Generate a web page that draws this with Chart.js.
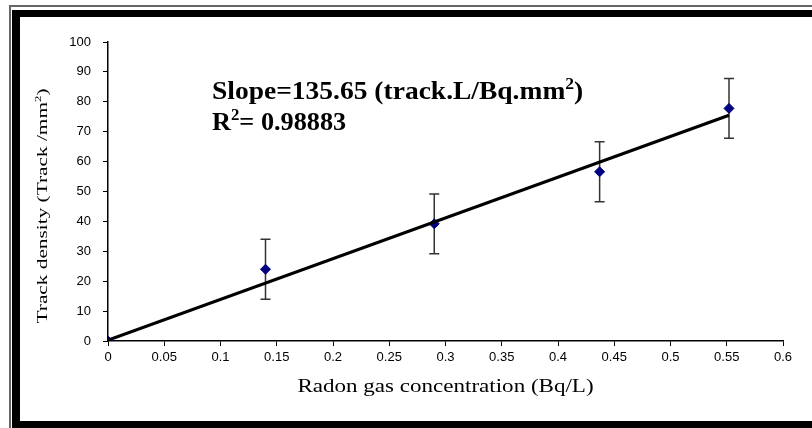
<!DOCTYPE html>
<html>
<head>
<meta charset="utf-8">
<script src="https://cdn.jsdelivr.net/npm/chart.js@4.4.1/dist/chart.umd.min.js"></script>
<style>
  html, body { margin: 0; padding: 0; background: #fff; }
  #wrap { position: relative; width: 812px; height: 428px; overflow: hidden; background: #fff; }
  .bar { position: absolute; }
  canvas { position: absolute; left: 0; top: 0; }
</style>
</head>
<body>
<div id="wrap">
  <!-- double frame: thin grey line outside, thick black inside -->
  <div class="bar" style="left:9px;top:5px;width:2px;height:423px;background:#666"></div>
  <div class="bar" style="left:9px;top:5px;width:803px;height:2px;background:#666"></div>
  <div class="bar" style="left:12px;top:10px;width:8px;height:418px;background:#000"></div>
  <div class="bar" style="left:12px;top:10px;width:800px;height:7px;background:#000"></div>
  <div class="bar" style="left:12px;top:421px;width:800px;height:7px;background:#000"></div>
  <canvas id="chart" width="812" height="428"></canvas>
</div>
<script>
// measured points
const radonConc = [0, 0.14, 0.29, 0.437, 0.552];
const trackDensity = [0, 24, 39.2, 56.6, 77.8];
const densityError = [0, 10, 10, 10, 10];

// linear fit drawn in the figure
const fitConc = [0, 0.552];
const fitDensity = [0.3, 75.5];

const xTickLabels = ["0", "0.05", "0.1", "0.15", "0.2", "0.25", "0.3", "0.35", "0.4", "0.45", "0.5", "0.55", "0.6"];
const yTickLabels = ["0", "10", "20", "30", "40", "50", "60", "70", "80", "90", "100"];

const xTitle = "Radon gas concentration (Bq/L)";
const yTitle = [["Track density (Track /mm", false], ["2", true], [")", false]];
const slopeText = [["Slope=135.65 (track.L/Bq.mm", false], ["2", true], [")", false]];
const r2Text = [["R", false], ["2", true], ["= 0.98883", false]];

// draws a run of text pieces, superscripts smaller and raised; sx stretches along the text
function drawRich(ctx, parts, x, y, size, weight, sx, align) {
  const supSize = Math.round(size * 0.62);
  let total = 0;
  parts.forEach(([t, sup]) => {
    ctx.font = `${weight} ${sup ? supSize : size}px "Liberation Serif", "Times New Roman", serif`;
    total += ctx.measureText(t).width;
  });
  ctx.save();
  ctx.translate(x, y);
  ctx.scale(sx, 1);
  let cx = align === "center" ? -total / 2 : 0;
  ctx.textBaseline = "alphabetic";
  ctx.textAlign = "left";
  ctx.fillStyle = "#000";
  parts.forEach(([t, sup]) => {
    ctx.font = `${weight} ${sup ? supSize : size}px "Liberation Serif", "Times New Roman", serif`;
    ctx.fillText(t, cx, sup ? -size * 0.4 : 0);
    cx += ctx.measureText(t).width;
  });
  ctx.restore();
}

const errorBars = {
  id: "errorBars",
  beforeDatasetsDraw(chart) {
    const { ctx, scales: { x, y } } = chart;
    ctx.save();
    ctx.strokeStyle = "#333";
    ctx.lineWidth = 1.5;
    radonConc.forEach((v, i) => {
      if (!densityError[i]) return;
      const px = x.getPixelForValue(v);
      const top = y.getPixelForValue(trackDensity[i] + densityError[i]);
      const bot = y.getPixelForValue(trackDensity[i] - densityError[i]);
      ctx.beginPath();
      ctx.moveTo(px, top); ctx.lineTo(px, bot);
      ctx.moveTo(px - 5, top); ctx.lineTo(px + 5, top);
      ctx.moveTo(px - 5, bot); ctx.lineTo(px + 5, bot);
      ctx.stroke();
    });
    ctx.restore();
  }
};

const labels = {
  id: "labels",
  afterDraw(chart) {
    const { ctx, chartArea: area } = chart;
    // axis titles
    drawRich(ctx, [[xTitle, false]], (area.left + area.right) / 2, 392, 18, "normal", 1.28, "center");
    ctx.save();
    ctx.translate(47, 206);
    ctx.rotate(-Math.PI / 2);
    drawRich(ctx, yTitle, 0, 0, 15, "normal", 1.42, "center");
    ctx.restore();
    // regression annotation
    drawRich(ctx, slopeText, 212, 99, 25, "bold", 1.1, "left");
    drawRich(ctx, r2Text, 212, 130, 25, "bold", 1.05, "left");
  }
};

new Chart(document.getElementById("chart"), {
  type: "scatter",
  data: {
    datasets: [
      {
        label: "fit",
        data: fitConc.map((v, i) => ({ x: v, y: fitDensity[i] })),
        showLine: true,
        borderColor: "#000",
        borderWidth: 3.2,
        pointRadius: 0
      },
      {
        label: "measured",
        data: radonConc.map((v, i) => ({ x: v, y: trackDensity[i] })),
        pointStyle: "rectRot",
        pointRadius: 5,
        backgroundColor: "#000080",
        borderColor: "#000080",
        borderWidth: 1
      }
    ]
  },
  options: {
    responsive: false,
    animation: false,
    layout: { padding: { left: 0, top: 42, right: 29, bottom: 0 } },
    plugins: { legend: { display: false }, tooltip: { enabled: false } },
    scales: {
      x: {
        type: "linear",
        min: 0,
        max: 0.6,
        afterBuildTicks: (s) => { s.ticks = xTickLabels.map((t) => ({ value: parseFloat(t) })); },
        afterFit: (s) => { s.height = 87; },
        ticks: {
          color: "#000",
          padding: 4,
          maxRotation: 0,
          autoSkip: false,
          font: { family: "'Liberation Sans', Arial", size: 13 },
          callback: (v, i) => xTickLabels[i]
        },
        grid: { drawOnChartArea: false, drawTicks: true, tickLength: 5, color: "#000" },
        border: { color: "#000", width: 1.5 }
      },
      y: {
        min: 0,
        max: 100,
        afterBuildTicks: (s) => { s.ticks = yTickLabels.map((t) => ({ value: parseFloat(t) })); },
        afterFit: (s) => { s.width = 108; },
        ticks: {
          color: "#000",
          padding: 12,
          autoSkip: false,
          font: { family: "'Liberation Sans', Arial", size: 13 },
          callback: (v, i) => yTickLabels[i]
        },
        grid: { drawOnChartArea: false, drawTicks: true, tickLength: 5, color: "#000" },
        border: { color: "#000", width: 1.5 }
      }
    }
  },
  plugins: [errorBars, labels]
});
</script>
</body>
</html>
